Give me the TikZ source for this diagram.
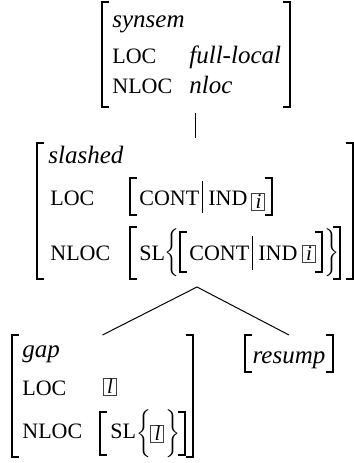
\documentclass[tikz,border=0pt]{standalone}
\usepackage{fontspec}
\setmainfont{Liberation Serif}
\newcommand\smc[1]{{\fontsize{11}{12}\selectfont\MakeUppercase{#1}}}
\begin{document}
\begin{tikzpicture}[x=0.5pt,y=-0.5pt,
  font=\fontsize{12.5}{15}\selectfont,
  brk/.style={line width=0.7pt},
  bar/.style={line width=0.5pt},
  tree/.style={line width=0.5pt},
  txt/.style={anchor=base west, inner sep=0pt},
  avmbox/.style={inner sep=0pt, outer sep=0pt},
  ibox/.style={draw=black!75, line width=0.5pt, inner sep=0pt, minimum width=6.5pt, minimum height=8.5pt, font=\fontsize{10.5}{10.5}\selectfont\itshape},
  brace/.style={inner sep=0pt}]
\newcommand\avmbrk[1]{%
  \draw[brk] ([xshift=3.5pt]#1.north west) -- (#1.north west) -- (#1.south west) -- ([xshift=3.5pt]#1.south west);
  \draw[brk] ([xshift=-3.5pt]#1.north east) -- (#1.north east) -- (#1.south east) -- ([xshift=-3.5pt]#1.south east);}
\newcommand\bigbrace[1]{$\left#1\vcenter{\hbox{\rule{0pt}{22pt}}}\right.$}
\newcommand\bigbracer[1]{$\left.\vcenter{\hbox{\rule{0pt}{22pt}}}\right#1$}
\useasboundingbox (0,0) rectangle (354,463);
% ---------- top AVM
\node[avmbox, minimum width=94pt, minimum height=52.5pt] (top) at (196,54.5) {};
\avmbrk{top}
\node[txt] (t0) at (112,27) {\textit{synsem}};
\node[txt] (t1) at (112,63) {\smc{loc}};
\node[txt] (t1v) at (189,63) {\textit{full-local}};
\node[txt] (t2) at (112,93) {\smc{nloc}};
\node[txt] (t2v) at (189,93) {\textit{nloc}};
% ---------- middle AVM
\node[avmbox, minimum width=158pt, minimum height=68pt] (mid) at (195,211) {};
\avmbrk{mid}
\node[txt] (s0) at (48,163) {\textit{slashed}};
\node[txt] (s1) at (50,205) {\smc{loc}};
\node[avmbox, minimum width=71pt, minimum height=18.5pt] (m1) at (201,196.5) {};
\avmbrk{m1}
\node[txt] (s1a) at (139,205) {\smc{cont}};
\draw[bar] (203,181) -- (203,213);
\node[txt] (s1b) at (208,205) {\smc{ind}};
\node[ibox] (s1i) at (258.5,201.5) {i};
\node[txt] (s2) at (50,260) {\smc{nloc}};
\node[avmbox, minimum width=105pt, minimum height=26pt] (m2) at (235,253) {};
\avmbrk{m2}
\node[txt] (s2a) at (139,260) {\smc{sl}};
\node[brace] (s2l) at (173,253) {\bigbrace\{};
\node[avmbox, minimum width=71pt, minimum height=20pt] (m3) at (251,252) {};
\avmbrk{m3}
\node[txt] (s2b) at (189,260) {\smc{cont}};
\draw[bar] (253,236) -- (253,270);
\node[txt] (s2c) at (258,260) {\smc{ind}};
\node[ibox] (s2i) at (309,253.5) {i};
\node[brace] (s2r) at (331,253) {\bigbracer\}};
% ---------- gap AVM
\node[avmbox, minimum width=90.5pt, minimum height=61pt] (gap) at (102.5,396) {};
\avmbrk{gap}
\node[txt] (g0) at (22,357) {\textit{gap}};
\node[txt] (g1) at (22,395) {\smc{loc}};
\node[ibox] (g1l) at (110,386.5) {l};
\node[txt] (g2) at (22,438) {\smc{nloc}};
\node[avmbox, minimum width=42.5pt, minimum height=21.5pt] (g2v) at (142.5,433.5) {};
\avmbrk{g2v}
\node[txt] (g2a) at (110,438) {\smc{sl}};
\node[brace] (g2l) at (145,433.5) {\bigbrace\{};
\node[ibox] (g2i) at (157.5,433.5) {l};
\node[brace] (g2r) at (172,433.5) {\bigbracer\}};
% ---------- resump AVM
\node[avmbox, minimum width=44pt, minimum height=18.5pt] (res) at (289,353.5) {};
\avmbrk{res}
\node[anchor=base, inner sep=0pt] (r0) at (289,363) {\textit{resump}};
% ---------- connectors
\draw[tree, shorten <=3pt, shorten >=2.5pt] (top.south) -- (top.south |- mid.north);
\coordinate (v) at ([xshift=1pt,yshift=-4pt]mid.south);
\draw[tree] (gap.north) -- (v) -- (res.north);
\end{tikzpicture}
\end{document}
